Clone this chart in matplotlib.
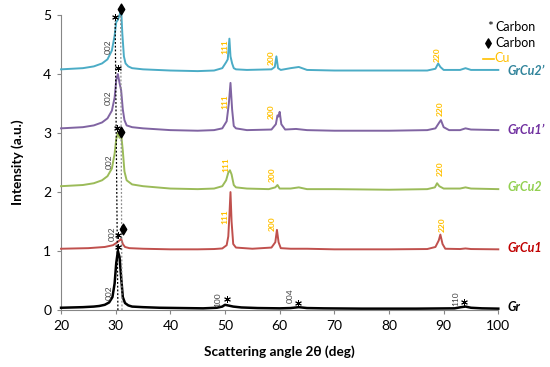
import numpy as np
import matplotlib
matplotlib.use("Agg")
import matplotlib.pyplot as plt

plt.rcParams['font.family'] = ['Lato', 'DejaVu Sans']

# spectra (2theta, intensity)
gr_x = [20, 22, 24, 26, 27, 28, 28.8, 29.4, 29.8, 30.1, 30.4, 30.7, 31.0, 31.3, 31.7, 32.3, 33, 35, 38, 42, 46,
        48.5, 49.5, 50.0, 50.5, 51.5, 53, 56, 60, 62, 63.5, 65, 68, 75, 85, 92, 93.2, 94, 95, 97, 100]
gr_y = [0.04, 0.045, 0.05, 0.06, 0.07, 0.09, 0.13, 0.22, 0.45, 0.8, 1.0, 0.9, 0.55, 0.22, 0.12, 0.08, 0.06, 0.05,
        0.04, 0.035, 0.03, 0.04, 0.06, 0.09, 0.08, 0.06, 0.045, 0.035, 0.03, 0.035, 0.05, 0.035, 0.03, 0.025, 0.025,
        0.03, 0.05, 0.06, 0.04, 0.03, 0.025]

cu1_x = [20, 25, 28, 29.5, 30.3, 30.8, 31.0, 31.3, 31.7, 32.5, 35, 40, 45, 48, 49.5, 50.3, 50.6, 50.8, 51.0, 51.2,
         51.5, 52, 55, 58.5, 59.2, 59.5, 59.8, 60.2, 62, 65, 70, 80, 87, 88.5, 89.1, 89.4, 89.8, 90.3, 93, 94, 95, 100]
cu1_y = [1.04, 1.05, 1.07, 1.1, 1.15, 1.19, 1.21, 1.12, 1.07, 1.05, 1.04, 1.03, 1.03, 1.035, 1.045, 1.1, 1.25, 1.6,
         2.0, 1.5, 1.12, 1.06, 1.04, 1.06, 1.15, 1.36, 1.15, 1.05, 1.04, 1.04, 1.03, 1.03, 1.035, 1.07, 1.18, 1.28,
         1.12, 1.04, 1.035, 1.045, 1.035, 1.03]

cu2_x = [20, 24, 26, 27.5, 28.5, 29.3, 29.8, 30.1, 30.4, 30.7, 31.0, 31.3, 31.6, 32.0, 33, 35, 40, 45, 48, 49.5,
         50.2, 50.6, 50.9, 51.2, 51.6, 52, 54, 58, 59.2, 59.6, 60, 62, 63.5, 65, 70, 80, 87, 88.4, 88.8, 89.2, 90,
         93, 94, 95, 100]
cu2_y = [2.1, 2.12, 2.15, 2.2, 2.27, 2.4, 2.65, 2.9, 3.0, 2.92, 2.98, 2.7, 2.35, 2.2, 2.13, 2.1, 2.06, 2.05, 2.06,
         2.1, 2.2, 2.33, 2.37, 2.3, 2.12, 2.08, 2.06, 2.05, 2.08, 2.12, 2.06, 2.06, 2.08, 2.05, 2.05, 2.04, 2.05,
         2.08, 2.15, 2.1, 2.06, 2.06, 2.08, 2.06, 2.05]

cu1p_x = [20, 24, 26, 27.5, 28.5, 29.3, 29.8, 30.1, 30.4, 30.7, 31.0, 31.3, 31.6, 32.0, 33, 35, 40, 45, 48, 49.5,
          50.3, 50.7, 51.0, 51.3, 51.6, 52, 54, 58.5, 59.3, 59.6, 59.8, 60.0, 60.3, 61, 63, 65, 70, 80, 87, 88.5,
          89.2, 89.5, 90, 91, 93, 94, 95, 100]
cu1p_y = [3.08, 3.1, 3.13, 3.18, 3.25, 3.38, 3.6, 3.9, 4.0, 3.85, 3.72, 3.4, 3.22, 3.13, 3.1, 3.08, 3.05, 3.04,
          3.05, 3.08, 3.2, 3.5, 3.85, 3.4, 3.12, 3.08, 3.05, 3.06, 3.15, 3.3, 3.28, 3.36, 3.15, 3.06, 3.07, 3.05,
          3.04, 3.04, 3.05, 3.08, 3.18, 3.22, 3.1, 3.05, 3.05, 3.08, 3.06, 3.05]

cu2p_x = [20, 24, 26, 27.5, 28.5, 29.3, 29.8, 30.1, 30.4, 30.7, 31.0, 31.2, 31.5, 31.8, 32.3, 33, 35, 40, 45, 48,
          49.5, 50.2, 50.5, 50.8, 51.0, 51.3, 51.6, 52, 54, 58.5, 59.1, 59.4, 59.7, 60.2, 62, 63.5, 65, 70, 80, 87,
          88.5, 89.0, 89.4, 90, 93, 94, 95, 100]
cu2p_y = [4.08, 4.1, 4.13, 4.18, 4.25, 4.4, 4.65, 4.88, 4.92, 5.0, 5.1, 4.7, 4.3, 4.18, 4.13, 4.1, 4.08, 4.06, 4.05,
          4.06, 4.1, 4.2, 4.25, 4.6, 4.3, 4.18, 4.1, 4.08, 4.07, 4.08, 4.12, 4.3, 4.1, 4.07, 4.1, 4.12, 4.07, 4.06,
          4.06, 4.06, 4.09, 4.18, 4.12, 4.07, 4.07, 4.1, 4.07, 4.07]

names = ["Gr", "GrCu1", "GrCu2", "GrCu1\u2019", "GrCu2\u2019"]
line_colors = ["black", "#C0504D", "#9BBB59", "#8064A2", "#4BACC6"]
name_colors = ["black", "#C00000", "#92D050", "#7030A0", "#31849B"]
name_y = [0.06, 1.05, 2.09, 3.05, 4.05]

# peak labels: (x, y, text)
carbon_labels = [(28.9, 0.29, "002"), (29.3, 1.3, "002"), (28.9, 2.51, "002"), (28.6, 3.6, "002"),
                 (28.6, 4.46, "002"), (48.7, 0.17, "100"), (61.9, 0.24, "004"), (92.2, 0.2, "110")]
cu_labels = [(50.0, 1.58, "111"), (58.6, 1.47, "200"), (89.8, 1.44, "220"),
             (50.2, 2.46, "111"), (58.6, 2.29, "200"), (89.4, 2.4, "220"),
             (50.0, 3.53, "111"), (58.5, 3.36, "200"), (89.4, 3.42, "220"),
             (50.0, 4.46, "111"), (58.5, 4.27, "200"), (88.9, 4.32, "220")]
star_x = [30.4, 30.4, 30.2, 30.4, 29.9, 50.3, 63.3, 93.7]
star_y = [1.07, 1.27, 3.08, 4.1, 4.97, 0.18, 0.12, 0.14]
diam_x = [31.3, 30.9, 30.9]
diam_y = [1.37, 3.02, 5.1]

dot_black_x = [30.4, 29.9]
dot_black_y = [0, 4.9]
dot_gray_x = [31.15, 30.9]
dot_gray_y = [0, 5.0]

fig = plt.figure(figsize=(5.5, 3.67), dpi=100)
ax = fig.add_axes([0.111, 0.155, 0.795, 0.804])

for xs, ys, c in zip([gr_x, cu1_x, cu2_x, cu1p_x, cu2p_x], [gr_y, cu1_y, cu2_y, cu1p_y, cu2p_y], line_colors):
    ax.plot(xs, ys, color=c, lw=1.8 if c == "black" else 1.4, clip_on=False, zorder=3)

ax.plot(dot_black_x, dot_black_y, color="black", lw=0.9, ls=(0, (1.5, 1.5)), zorder=4, clip_on=False)
ax.plot(dot_gray_x, dot_gray_y, color="#8C8C8C", lw=0.9, ls=(0, (1.5, 1.5)), zorder=4, clip_on=False)

for x, y, t in carbon_labels:
    ax.text(x, y, t, rotation=90, fontsize=6, color="#404040", ha="center", va="center")
for x, y, t in cu_labels:
    ax.text(x, y, t, rotation=90, fontsize=6, color="#FFC000", ha="center", va="center", fontweight="bold")

ax.scatter(star_x, star_y, marker=(6, 2, 0), s=18, color="black", lw=0.7, zorder=5, clip_on=False)
ax.scatter(diam_x, diam_y, marker="d", s=30, color="black", zorder=5, clip_on=False)

for n, y, c in zip(names, name_y, name_colors):
    ax.text(101.7, y, n, color=c, fontsize=9, fontweight="bold", style="italic", va="center", ha="left")

# legend
ax.text(97.9, 4.8, "*", fontsize=10, va="center", ha="left")
ax.text(99.4, 4.8, "Carbon", fontsize=9, va="center", ha="left")
ax.scatter([98.2], [4.53], marker="d", s=22, color="black", clip_on=False)
ax.text(99.4, 4.53, "Carbon", fontsize=9, va="center", ha="left")
ax.plot([97.2, 99.3], [4.25, 4.25], color="#FFC000", lw=1.2, clip_on=False)
ax.text(99.3, 4.28, "Cu", fontsize=9, va="center", ha="left", color="#FFC000")

ax.set_xlim(20, 100)
ax.set_ylim(0, 5)
ax.set_xticks(np.arange(20, 101, 10))
ax.set_yticks(np.arange(0, 6, 1))
ax.tick_params(labelsize=10, length=3, color="#868686", pad=4)
for s in ["top", "right"]:
    ax.spines[s].set_visible(False)
for s in ["left", "bottom"]:
    ax.spines[s].set_color("#868686")
ax.set_xlabel("Scattering angle 2\u03b8 (deg)", fontsize=9.8, fontweight="bold", labelpad=10)
ax.set_ylabel("Intensity (a.u.)", fontsize=9.8, fontweight="bold", labelpad=14)

fig.savefig("out.png", dpi=100)
